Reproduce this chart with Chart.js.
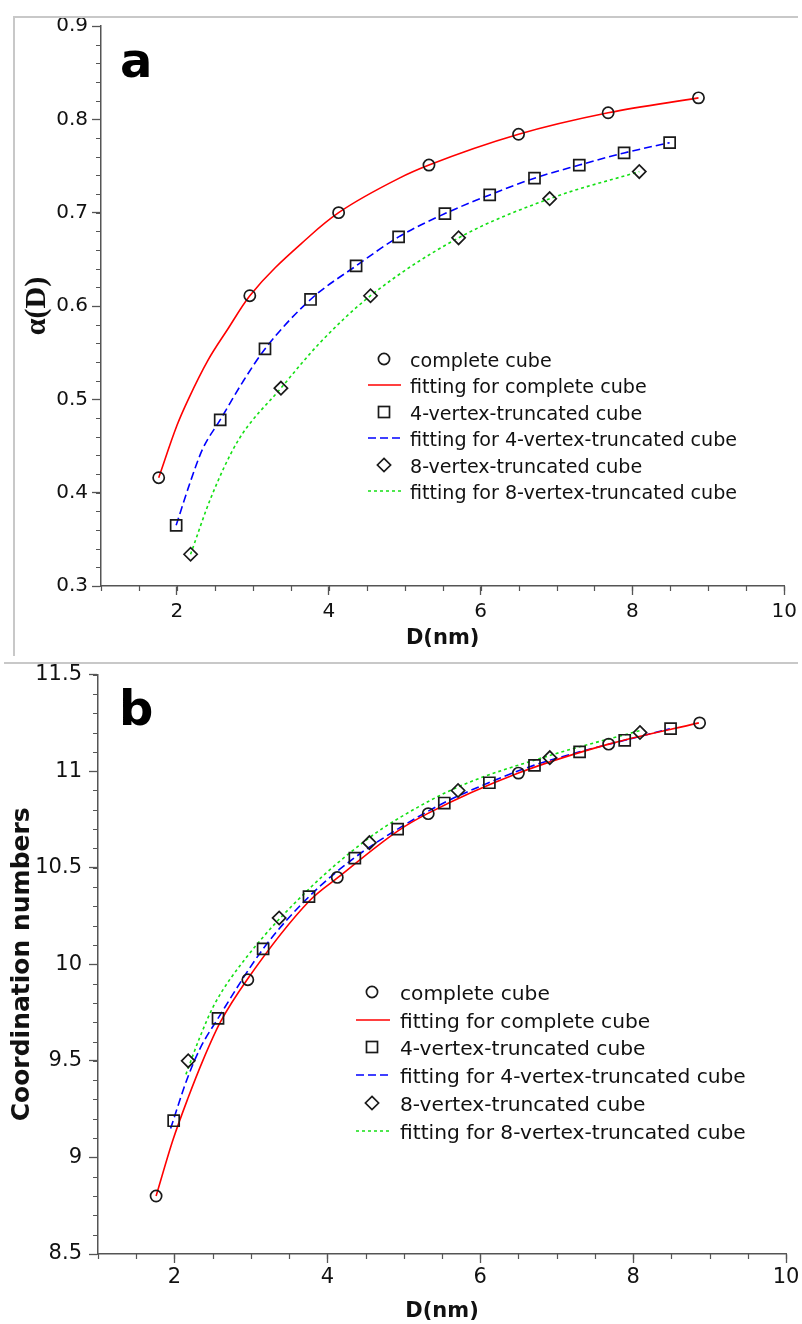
<!DOCTYPE html>
<html lang="en">
<head>
    <meta charset="UTF-8">
    <meta name="viewport" content="width=device-width, initial-scale=1.0">
    <title>alpha(D) and coordination numbers of cube nanoparticles</title>
    <style>
        * {
            margin: 0;
            padding: 0;
            box-sizing: border-box;
        }

        body {
            background-color: white;
            width: 802px;
            height: 1324px;
            overflow: hidden;
            font-family: 'DejaVu Sans', sans-serif;
        }

        .page {
            position: relative;
            width: 802px;
            height: 1324px;
        }

        canvas {
            position: absolute;
            left: 0;
        }

        #chartA { top: 0; }
        #chartB { top: 655px; }

        .frame {
            position: absolute;
            background-color: #c8c8c8;
        }

        .letter {
            position: absolute;
            font: bold 48px 'DejaVu Sans', sans-serif;
            line-height: 48px;
            color: #000;
        }

        .legend-row {
            position: absolute;
            white-space: nowrap;
            color: #111;
            font-family: 'DejaVu Sans', sans-serif;
        }

        .legend-glyph {
            position: absolute;
        }
    </style>
</head>
<body>
    <div class="page" id="page">
        <canvas id="chartA" width="802" height="652"></canvas>
        <canvas id="chartB" width="802" height="669"></canvas>

        <div class="frame" style="left:13px; top:16px; width:785px; height:1.5px;"></div>
        <div class="frame" style="left:13px; top:16px; width:1.5px; height:640px;"></div>
        <div class="frame" style="left:4px; top:662px; width:794px; height:1.5px;"></div>

        <div class="letter" style="left:120px; top:36px;">a</div>
        <div class="letter" style="left:119px; top:684px;">b</div>
    </div>

    <script src="https://cdn.jsdelivr.net/npm/chart.js"></script>
    <script>
        // axis ticks
        const xTicks = [2, 4, 6, 8, 10];
        const yTicksA = [0.3, 0.4, 0.5, 0.6, 0.7, 0.8, 0.9];
        const yTicksB = [8.5, 9, 9.5, 10, 10.5, 11, 11.5];

        // particle sizes D (nm) of the computed points
        const dComplete = [1.76, 2.96, 4.13, 5.32, 6.50, 7.68, 8.87];
        const d4v = [1.99, 2.57, 3.16, 3.76, 4.36, 4.92, 5.53, 6.12, 6.71, 7.30, 7.89, 8.49];
        const d8v = [2.18, 3.37, 4.55, 5.71, 6.91, 8.09];

        // panel a: alpha(D)
        const alphaComplete = [0.416, 0.611, 0.700, 0.751, 0.784, 0.807, 0.823];
        const alpha4v = [0.365, 0.478, 0.554, 0.607, 0.643, 0.674, 0.699, 0.719, 0.737, 0.751, 0.764, 0.775];
        const alpha8v = [0.334, 0.512, 0.611, 0.673, 0.715, 0.744];

        // panel a: fitted curves
        const fitADComplete = [1.76, 2.00, 2.15, 2.41, 2.66, 2.96, 3.75, 4.13, 4.93, 5.32, 6.50, 7.68, 8.87];
        const fitAlphaComplete = [0.416, 0.472, 0.500, 0.542, 0.574, 0.611, 0.675, 0.700, 0.737, 0.751, 0.784, 0.807, 0.823];
        const fitAD4v = [1.99, 2.17, 2.34, 2.57, 2.87, 3.16, 3.76, 4.36, 4.92, 5.53, 6.12, 6.71, 7.30, 7.89, 8.49];
        const fitAlpha4v = [0.365, 0.410, 0.447, 0.478, 0.519, 0.554, 0.607, 0.643, 0.674, 0.699, 0.719, 0.737, 0.751, 0.764, 0.775];
        const fitAD8v = [2.18, 2.45, 2.80, 3.37, 3.90, 4.55, 5.71, 6.91, 8.09];
        const fitAlpha8v = [0.334, 0.395, 0.455, 0.512, 0.562, 0.611, 0.673, 0.715, 0.744];

        // panel b: coordination numbers
        const cnComplete = [8.80, 9.92, 10.45, 10.78, 10.99, 11.14, 11.25];
        const cn4v = [9.19, 9.72, 10.08, 10.35, 10.55, 10.70, 10.835, 10.94, 11.03, 11.10, 11.16, 11.22];
        const cn8v = [9.50, 10.24, 10.63, 10.90, 11.07, 11.20];

        // panel b: fitted curves
        const fitBDComplete = [1.76, 1.98, 2.18, 2.37, 2.60, 2.95, 3.77, 4.14, 4.92, 5.31, 6.50, 7.68, 8.86];
        const fitCnComplete = [8.80, 9.09, 9.31, 9.50, 9.70, 9.92, 10.33, 10.45, 10.69, 10.78, 10.99, 11.14, 11.25];
        const fitBD4v = [1.95, 2.16, 2.33, 2.57, 3.16, 3.76, 4.35, 4.92, 5.52, 6.11, 6.70, 7.30, 7.89, 8.48];
        const fitCn4v = [9.15, 9.40, 9.56, 9.72, 10.08, 10.35, 10.55, 10.70, 10.835, 10.94, 11.03, 11.10, 11.16, 11.22];
        const fitBD8v = [2.15, 2.33, 2.52, 2.95, 3.76, 4.53, 4.95, 5.72, 6.90, 8.09];
        const fitCn8v = [9.43, 9.62, 9.79, 10.04, 10.39, 10.65, 10.76, 10.92, 11.08, 11.21];

        const legendLabels = [
            'complete cube',
            'fitting for complete cube',
            '4-vertex-truncated cube',
            'fitting for 4-vertex-truncated cube',
            '8-vertex-truncated cube',
            'fitting for 8-vertex-truncated cube'
        ];
        const legendGlyphs = ['circle', 'solid', 'rect', 'dash', 'diamond', 'dot'];

        const RED = '#ff0000';
        const BLUE = '#0000ff';
        const GREEN = '#14e014';
        const INK = '#1a1a1a';
        const AXIS = '#555555';

        function pairs(xs, ys) {
            return xs.map((x, i) => ({ x: x, y: ys[i] }));
        }

        function markerSet(label, data, style, radius) {
            return {
                label: label,
                data: data,
                showLine: false,
                pointStyle: style,
                pointRadius: radius,
                pointHoverRadius: radius,
                pointBorderColor: INK,
                pointBackgroundColor: 'rgba(0,0,0,0)',
                pointBorderWidth: 1.7
            };
        }

        function fitSet(label, data, color, dash) {
            return {
                label: label,
                data: data,
                showLine: true,
                borderColor: color,
                borderWidth: 1.6,
                borderDash: dash,
                pointRadius: 0,
                pointHoverRadius: 0,
                cubicInterpolationMode: 'monotone',
                fill: false
            };
        }

        // minor tick marks along both axes
        const minorTicks = {
            id: 'minorTicks',
            afterDraw(chart, args, opts) {
                const ctx = chart.ctx;
                const xs = chart.scales.x;
                const ys = chart.scales.y;
                ctx.save();
                ctx.strokeStyle = AXIS;
                ctx.lineWidth = 1.2;
                ctx.beginPath();
                const nx = Math.round((xs.max - xs.min) / opts.xStep);
                for (let i = 0; i <= nx; i++) {
                    const px = Math.round(xs.getPixelForValue(xs.min + i * opts.xStep)) + 0.5;
                    ctx.moveTo(px, xs.top);
                    ctx.lineTo(px, xs.top + 5);
                }
                const ny = Math.round((ys.max - ys.min) / opts.yStep);
                for (let i = 0; i <= ny; i++) {
                    const py = Math.round(ys.getPixelForValue(ys.min + i * opts.yStep)) + 0.5;
                    ctx.moveTo(ys.right - 5, py);
                    ctx.lineTo(ys.right, py);
                }
                ctx.stroke();
                ctx.restore();
            }
        };

        function makePanel(id, cfg) {
            const ctx = document.getElementById(id).getContext('2d');
            return new Chart(ctx, {
                type: 'scatter',
                data: { datasets: cfg.datasets },
                plugins: [minorTicks],
                options: {
                    responsive: false,
                    animation: false,
                    events: [],
                    layout: { padding: cfg.padding },
                    plugins: {
                        legend: { display: false },
                        tooltip: { enabled: false },
                        minorTicks: { xStep: 0.5, yStep: cfg.yMinor }
                    },
                    scales: {
                        x: {
                            type: 'linear',
                            min: 1,
                            max: 10,
                            afterBuildTicks: s => { s.ticks = xTicks.map(v => ({ value: v })); },
                            afterFit: s => { s.height = cfg.xAxisHeight; },
                            grid: { drawOnChartArea: false, tickLength: 9, color: AXIS, tickWidth: 1.3 },
                            border: { color: AXIS, width: 1.5 },
                            ticks: {
                                color: '#111',
                                font: { family: 'DejaVu Sans', size: cfg.tickSize },
                                padding: cfg.xTickPad,
                                maxRotation: 0,
                                autoSkip: false
                            },
                            title: {
                                display: true,
                                text: 'D(nm)',
                                color: '#111',
                                font: { family: 'DejaVu Sans', size: 21, weight: 'bold' },
                                padding: { top: 0, bottom: cfg.xTitlePad }
                            }
                        },
                        y: {
                            type: 'linear',
                            min: cfg.yTicks[0],
                            max: cfg.yTicks[cfg.yTicks.length - 1],
                            afterBuildTicks: s => { s.ticks = cfg.yTicks.map(v => ({ value: v })); },
                            afterFit: s => { s.width = cfg.yAxisWidth; },
                            grid: { drawOnChartArea: false, tickLength: 9, color: AXIS, tickWidth: 1.3 },
                            border: { color: AXIS, width: 1.5 },
                            ticks: {
                                color: '#111',
                                font: { family: 'DejaVu Sans', size: cfg.tickSize },
                                padding: cfg.yTickPad,
                                autoSkip: false,
                                callback: cfg.yLabel
                            },
                            title: {
                                display: true,
                                text: cfg.yTitle,
                                color: '#111',
                                font: cfg.yTitleFont,
                                padding: { top: cfg.yTitlePad, bottom: 0 }
                            }
                        }
                    }
                }
            });
        }

        function buildDatasets(mkC, mk4, mk8, fC, f4, f8) {
            return [
                markerSet(legendLabels[0], mkC, 'circle', 5.6),
                markerSet(legendLabels[2], mk4, 'rect', 7.8),
                markerSet(legendLabels[4], mk8, 'rectRot', 6.6),
                fitSet(legendLabels[1], fC, RED, []),
                fitSet(legendLabels[3], f4, BLUE, [8, 4]),
                fitSet(legendLabels[5], f8, GREEN, [3, 3])
            ];
        }

        makePanel('chartA', {
            datasets: buildDatasets(
                pairs(dComplete, alphaComplete), pairs(d4v, alpha4v), pairs(d8v, alpha8v),
                pairs(fitADComplete, fitAlphaComplete), pairs(fitAD4v, fitAlpha4v), pairs(fitAD8v, fitAlpha8v)
            ),
            padding: { top: 26, right: 17, left: 0, bottom: 0 },
            xAxisHeight: 66,
            yAxisWidth: 101,
            yTicks: yTicksA,
            yMinor: 0.02,
            yLabel: v => v.toFixed(1),
            tickSize: 20,
            xTickPad: 5,
            yTickPad: 4,
            xTitlePad: 1,
            yTitle: 'α(D)',
            yTitleFont: { family: 'Liberation Serif', size: 30, weight: 'bold' },
            yTitlePad: 19
        });

        makePanel('chartB', {
            datasets: buildDatasets(
                pairs(dComplete, cnComplete), pairs(d4v, cn4v), pairs(d8v, cn8v),
                pairs(fitBDComplete, fitCnComplete), pairs(fitBD4v, fitCn4v), pairs(fitBD8v, fitCn8v)
            ),
            padding: { top: 18, right: 16, left: 0, bottom: 0 },
            xAxisHeight: 70,
            yAxisWidth: 98,
            yTicks: yTicksB,
            yMinor: 0.1,
            yLabel: v => String(v),
            tickSize: 21,
            xTickPad: 2,
            yTickPad: 7,
            xTitlePad: 0,
            yTitle: 'Coordination numbers',
            yTitleFont: { family: 'DejaVu Sans', size: 25, weight: 'bold' },
            yTitlePad: 7
        });

        // legends drawn inside the plot areas
        function glyphSvg(kind, lineFrom, lineTo) {
            const s = 'stroke="' + INK + '" stroke-width="1.7" fill="none"';
            if (kind === 'circle') return '<circle cx="20" cy="10" r="5.6" ' + s + '/>';
            if (kind === 'rect') return '<rect x="14.5" y="4.5" width="11" height="11" ' + s + '/>';
            if (kind === 'diamond') return '<polygon points="20,3.4 26.6,10 20,16.6 13.4,10" ' + s + '/>';
            const col = kind === 'solid' ? RED : (kind === 'dash' ? BLUE : GREEN);
            const dash = kind === 'dash' ? ' stroke-dasharray="8 4"' : (kind === 'dot' ? ' stroke-dasharray="3 3"' : '');
            return '<line x1="' + lineFrom + '" y1="10" x2="' + lineTo + '" y2="10" stroke="' + col + '" stroke-width="1.6"' + dash + '/>';
        }

        function addLegend(L) {
            const page = document.getElementById('page');
            legendLabels.forEach((text, i) => {
                const rowY = L.firstRow + i * L.step;
                const svg = document.createElementNS('http://www.w3.org/2000/svg', 'svg');
                svg.setAttribute('class', 'legend-glyph');
                svg.setAttribute('width', '40');
                svg.setAttribute('height', '20');
                svg.style.left = (L.glyphX - 20) + 'px';
                svg.style.top = (rowY - 10) + 'px';
                svg.innerHTML = glyphSvg(legendGlyphs[i], L.lineX0 - L.glyphX + 20, L.lineX1 - L.glyphX + 20);
                page.appendChild(svg);

                const row = document.createElement('div');
                row.className = 'legend-row';
                row.style.left = L.textX + 'px';
                row.style.top = (rowY - L.textShift) + 'px';
                row.style.fontSize = L.fontSize + 'px';
                row.style.lineHeight = L.lineHeight + 'px';
                row.textContent = text;
                page.appendChild(row);
            });
        }

        addLegend({ firstRow: 359, step: 26.4, glyphX: 384, lineX0: 368, lineX1: 401, textX: 410, fontSize: 19.1, lineHeight: 22, textShift: 9 });
        addLegend({ firstRow: 992, step: 27.7, glyphX: 372, lineX0: 356, lineX1: 390, textX: 400, fontSize: 20.2, lineHeight: 24, textShift: 11 });
    </script>
</body>
</html>
